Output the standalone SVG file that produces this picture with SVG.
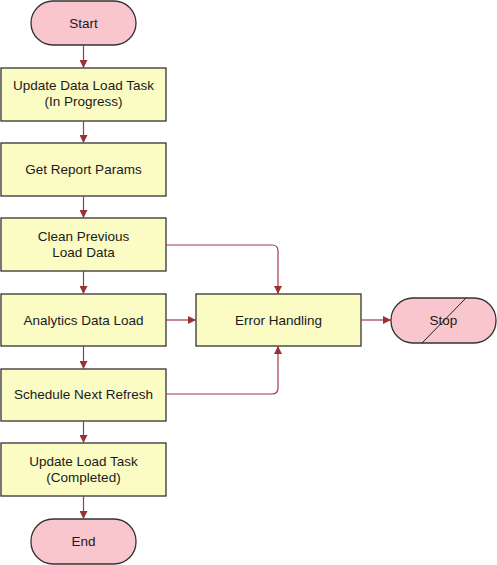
<svg xmlns="http://www.w3.org/2000/svg" width="497" height="565" viewBox="0 0 497 565">
<defs>
<marker id="arr" viewBox="0 0 10 10" refX="10" refY="5" markerWidth="8" markerHeight="8" markerUnits="userSpaceOnUse" orient="auto">
<path d="M0,0 L10,5 L0,10 z" fill="#993333"/>
</marker>
</defs>
<style>
.proc{fill:#fbfbc4;stroke:#333333;stroke-width:1.3}
.term{fill:#f9c6cd;stroke:#333333;stroke-width:1.3}
.t{font-family:"Liberation Sans",Arial,sans-serif;font-size:13.5px;fill:#1a1a1a;text-anchor:middle}
.c{fill:none;stroke:#a0394a;stroke-width:1.2;marker-end:url(#arr)}
</style>
<rect width="497" height="565" fill="#ffffff"/>
<g id="start"><rect class="term" x="31" y="1" width="105" height="44" rx="22" ry="22"/><text class="t" x="83.5" y="27.5">Start</text></g>
<g id="update-data-load-task"><rect class="proc" x="1" y="68" width="165" height="53"/><text class="t" x="83.5" y="90">Update Data Load Task</text><text class="t" x="83.5" y="106">(In Progress)</text></g>
<g id="get-report-params"><rect class="proc" x="1" y="143" width="165" height="53"/><text class="t" x="83.5" y="174">Get Report Params</text></g>
<g id="clean-previous"><rect class="proc" x="1" y="218" width="165" height="53"/><text class="t" x="83.5" y="241">Clean Previous</text><text class="t" x="83.5" y="257">Load Data</text></g>
<g id="analytics-data-load"><rect class="proc" x="1" y="294" width="165" height="52"/><text class="t" x="83.5" y="324.5">Analytics Data Load</text></g>
<g id="schedule-next-refresh"><rect class="proc" x="1" y="369" width="165" height="52"/><text class="t" x="83.5" y="399">Schedule Next Refresh</text></g>
<g id="update-load-task"><rect class="proc" x="1" y="443" width="165" height="53"/><text class="t" x="83.5" y="466">Update Load Task</text><text class="t" x="83.5" y="482">(Completed)</text></g>
<g id="end"><rect class="term" x="31" y="519" width="105" height="45" rx="22" ry="22"/><text class="t" x="83.5" y="545.5">End</text></g>
<g id="error-handling"><rect class="proc" x="196" y="294" width="165" height="52"/><text class="t" x="278.5" y="324.5">Error Handling</text></g>
<g id="stop"><rect class="term" x="391" y="298" width="105" height="45" rx="22" ry="22"/><line x1="422" y1="343" x2="466" y2="298" stroke="#222222" stroke-width="1"/><text class="t" x="443.5" y="324.5">Stop</text></g>
<g id="connectors">
<line class="c" x1="83.5" y1="45" x2="83.5" y2="68"/>
<line class="c" x1="83.5" y1="121" x2="83.5" y2="143"/>
<line class="c" x1="83.5" y1="196" x2="83.5" y2="218"/>
<line class="c" x1="83.5" y1="271" x2="83.5" y2="294"/>
<line class="c" x1="83.5" y1="346" x2="83.5" y2="369"/>
<line class="c" x1="83.5" y1="421" x2="83.5" y2="443"/>
<line class="c" x1="83.5" y1="496" x2="83.5" y2="519"/>
<line class="c" x1="166" y1="320" x2="196" y2="320"/>
<line class="c" x1="361" y1="320" x2="391" y2="320"/>
<path class="c" d="M166,245 H272 Q278,245 278,251 V294"/>
<path class="c" d="M166,394 H272 Q278,394 278,388 V346"/>
</g>
</svg>
